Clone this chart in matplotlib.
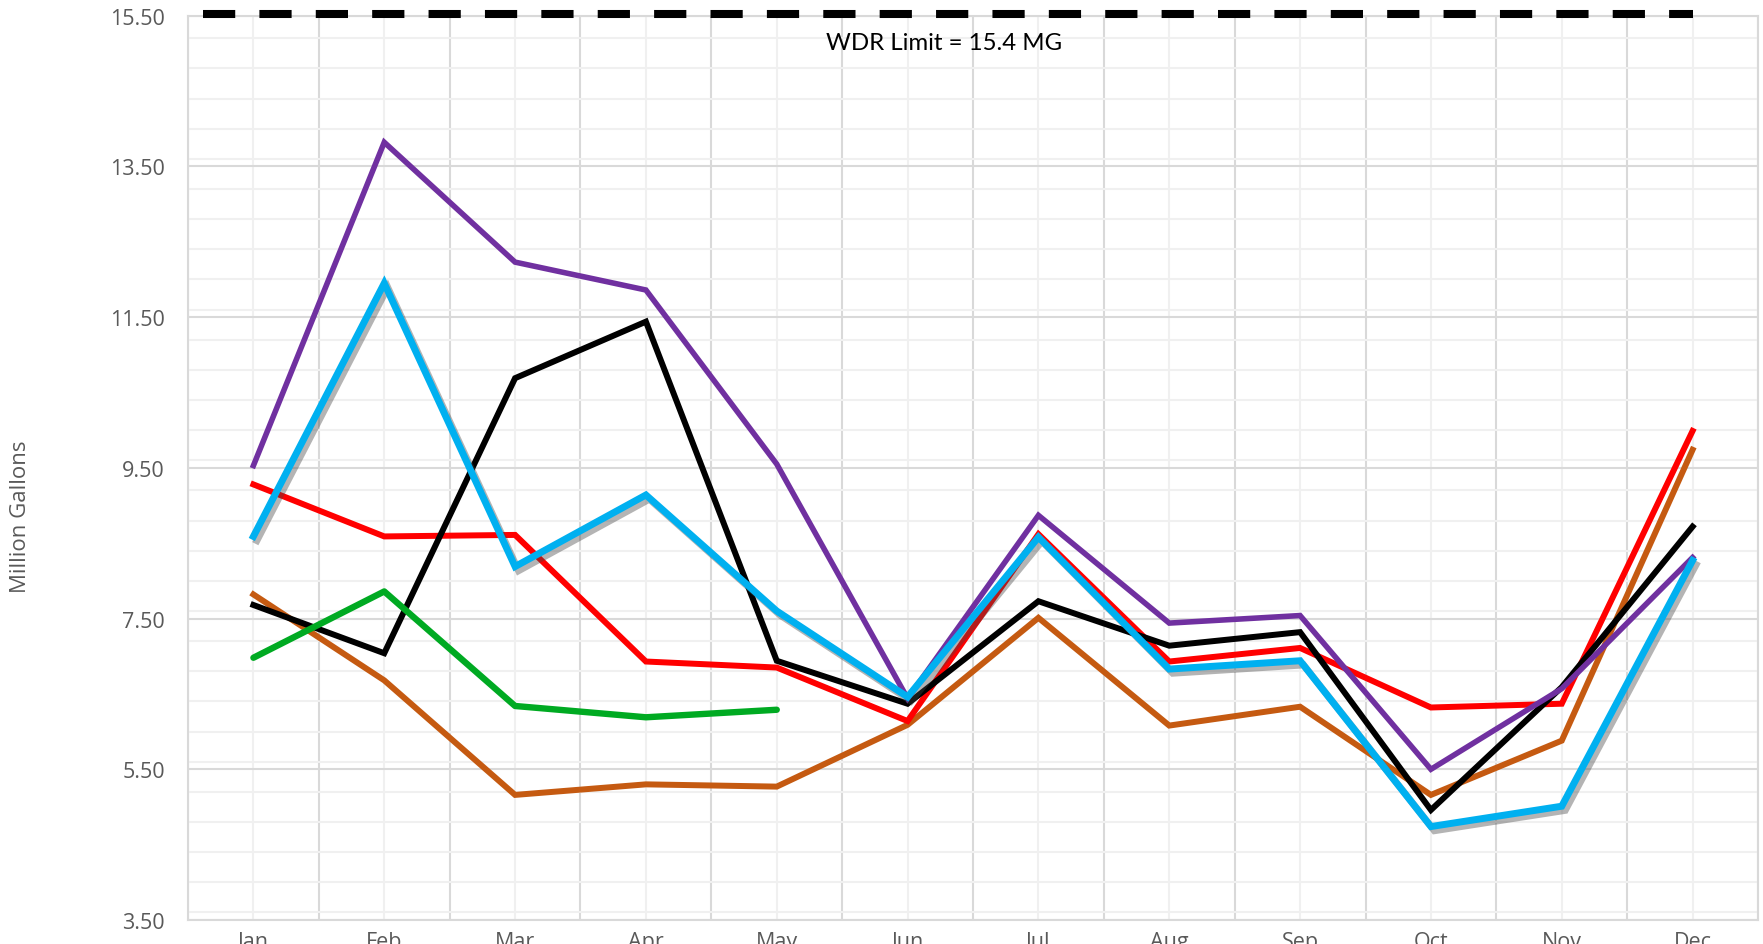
import numpy as np
import matplotlib
matplotlib.use("Agg")
import matplotlib.pyplot as plt
import matplotlib.patheffects as pe
from matplotlib.ticker import MultipleLocator, FixedLocator, FormatStrFormatter

# monthly usage, million gallons
months = ['Jan', 'Feb', 'Mar', 'Apr', 'May', 'Jun', 'Jul', 'Aug', 'Sep', 'Oct', 'Nov', 'Dec']
brown = [7.82, 6.68, 5.16, 5.30, 5.27, 6.09, 7.51, 6.08, 6.33, 5.16, 5.88, 9.74]
red = [9.28, 8.59, 8.61, 6.93, 6.85, 6.14, 8.62, 6.93, 7.11, 6.32, 6.37, 9.99]
black = [7.68, 7.04, 10.69, 11.44, 6.94, 6.37, 7.73, 7.14, 7.32, 4.96, 6.59, 8.72]
purple = [9.53, 13.82, 12.23, 11.86, 9.55, 6.44, 8.87, 7.44, 7.54, 5.50, 6.57, 8.31]
cyan = [8.59, 11.95, 8.19, 9.14, 7.60, 6.46, 8.58, 6.83, 6.94, 4.74, 5.01, 8.27]
green = [6.98, 7.86, 6.34, 6.19, 6.29]

# WDR limit line
limit_x = [-0.385, 11.0]
limit_y = [15.52, 15.52]
limit_label = 'WDR Limit = 15.4 MG'

plt.rcParams['font.family'] = ['Open Sans', 'DejaVu Sans']

fig = plt.figure(figsize=(17.63, 9.45), dpi=100)
ax = fig.add_axes([188 / 1763, 24 / 945, 1570 / 1763, 904.3 / 945])

x = np.arange(len(months))

ax.plot(limit_x, limit_y, color='black', lw=5.8, dashes=(4, 3),
        solid_capstyle='butt', dash_capstyle='butt', clip_on=False, zorder=5)
ax.text(5.28, 15.15, limit_label, ha='center', va='center', fontsize=17.3,
        color='black', family=['Lato', 'DejaVu Sans'])

ax.plot(x, brown, color='#C55A11', lw=4.3, solid_joinstyle='miter', zorder=3)
ax.plot(x, red, color='#FF0000', lw=4.3, solid_joinstyle='miter', zorder=3)
ax.plot(x, black, color='black', lw=4.3, solid_joinstyle='miter', zorder=3)
ax.plot(x, purple, color='#7030A0', lw=4.0, solid_joinstyle='miter', zorder=3)
ax.plot(x, cyan, color='#00B0F0', lw=5.0, solid_joinstyle='miter', zorder=4,
        path_effects=[pe.SimpleLineShadow(offset=(2.5, -3), shadow_color='#444444', alpha=0.4),
                      pe.Normal()])
ax.plot(x[:len(green)], green, color='#00AA22', lw=4.6, solid_capstyle='round', zorder=3)

ax.set_xlim(-0.5, 11.5)
ax.set_ylim(3.5, 15.5)

ax.set_xticks(x)
ax.set_xticklabels(months)
ax.xaxis.set_minor_locator(FixedLocator(np.arange(-0.5, 12, 1)))
ax.yaxis.set_major_locator(MultipleLocator(2))
ax.yaxis.set_minor_locator(MultipleLocator(0.4))
ax.yaxis.set_major_formatter(FormatStrFormatter('%.2f'))
ax.set_yticks(np.arange(3.5, 15.6, 2))

ax.tick_params(which='both', length=0)
ax.tick_params(axis='y', labelsize=15.5, labelcolor='#595959', pad=16.5)
ax.tick_params(axis='x', labelsize=15.5, labelcolor='#595959', pad=8)

ax.grid(which='major', axis='y', color='#d9d9d9', lw=1.5, zorder=0)
ax.grid(which='minor', axis='y', color='#f0f0f0', lw=1.5, zorder=0)
ax.grid(which='major', axis='x', color='#f0f0f0', lw=1.5, zorder=0)
ax.grid(which='minor', axis='x', color='#d9d9d9', lw=1.5, zorder=0)
ax.set_axisbelow(True)
for s in ax.spines.values():
    s.set_color('#d9d9d9')
    s.set_linewidth(1.5)

ax.set_ylabel('Million Gallons', fontsize=16, color='#595959')
ax.yaxis.set_label_coords(-0.100, 0.447)

fig.savefig('out.png', dpi=100)
